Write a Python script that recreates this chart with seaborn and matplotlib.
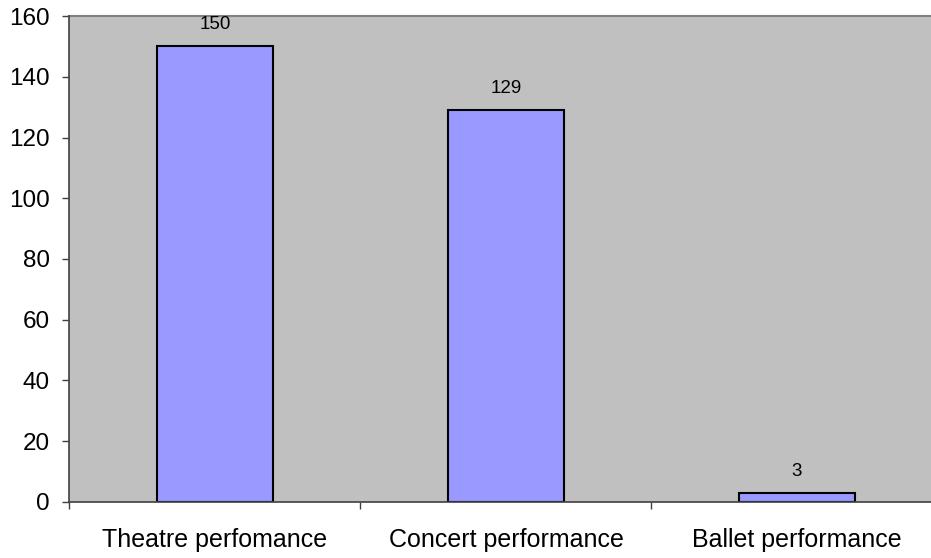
import matplotlib
matplotlib.use("Agg")
import matplotlib.pyplot as plt
import seaborn as sns
import pandas as pd

# ── DATA ──────────────────────────────────────────────
categories = ["Theatre perfomance", "Concert performance", "Ballet performance"]
values = [150, 129, 3]
y_ticks = [0, 20, 40, 60, 80, 100, 120, 140, 160]

df = pd.DataFrame({"category": categories, "count": values})

# ── STYLE ─────────────────────────────────────────────
sns.set_style("white")
plt.rcParams["font.family"] = ["Liberation Sans", "DejaVu Sans"]
plt.rcParams["text.color"] = "black"
plt.rcParams["xtick.color"] = "black"
plt.rcParams["ytick.color"] = "black"

fig = plt.figure(figsize=(9.31, 5.58), dpi=100)
ax = fig.add_axes([0.0746, 0.1004, 0.9254, 0.8709])
ax.set_facecolor("#C0C0C0")

sns.barplot(data=df, x="category", y="count", color="#9999FF",
            saturation=1, width=0.4, edgecolor="black", linewidth=1.5,
            ax=ax, zorder=3)

# value labels above bars
for i, v in enumerate(values):
    ax.annotate(str(v), (i, v), xytext=(0, 15.5), textcoords="offset points",
                ha="center", va="center", fontsize=13.5, color="black")

ax.set_ylim(0, 160)
ax.set_yticks(y_ticks)
ax.set_xlim(-0.5, -0.5 + (931 - 69.5) / 291)

# category boundaries as ticks, labels at centers
ax.set_xticks(range(len(categories)))
ax.set_xticklabels(categories, fontsize=18)
ax.set_xticks([-0.5, 0.5, 1.5], minor=True)
ax.tick_params(axis="x", which="major", bottom=False, length=0, pad=19,
               labelcolor="black")
ax.tick_params(axis="x", which="minor", bottom=True, length=5, width=1,
               color="#404040", direction="out")
ax.tick_params(axis="y", left=True, length=5, width=1, color="#404040",
               direction="out", labelsize=17.5, pad=9, labelcolor="black")

ax.set_xlabel("")
ax.set_ylabel("")

for side in ["left", "bottom"]:
    ax.spines[side].set_color("#404040")
    ax.spines[side].set_linewidth(1.2)
ax.spines["top"].set_color("#808080")
ax.spines["top"].set_linewidth(1.5)
ax.spines["right"].set_visible(False)
ax.spines["left"].set_zorder(4)
ax.spines["bottom"].set_zorder(4)

fig.savefig("out.png", dpi=100)
